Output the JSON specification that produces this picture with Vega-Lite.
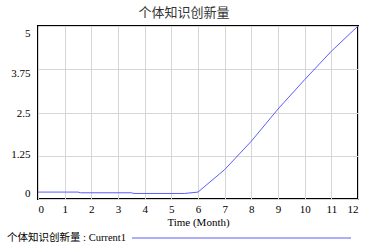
{
  "$schema": "https://vega.github.io/schema/vega-lite/v6.json",
  "width": 320,
  "height": 173,
  "autosize": "none",
  "padding": {"left": 38, "top": 26, "right": 12, "bottom": 48},
  "background": "white",
  "title": {
    "text": "个体知识创新量",
    "font": "Noto Sans CJK SC",
    "fontSize": 13,
    "fontWeight": "normal",
    "color": "#333333",
    "anchor": "middle",
    "dx": -14,
    "offset": 6
  },
  "config": {
    "view": {"stroke": "black", "strokeWidth": 2}
  },
  "data": {
    "values": [
      {"t": 0, "v": 0.2, "s": "Current1"},
      {"t": 1.5, "v": 0.2, "s": "Current1"},
      {"t": 1.6, "v": 0.18, "s": "Current1"},
      {"t": 3.5, "v": 0.18, "s": "Current1"},
      {"t": 3.6, "v": 0.16, "s": "Current1"},
      {"t": 5.5, "v": 0.16, "s": "Current1"},
      {"t": 6, "v": 0.2, "s": "Current1"},
      {"t": 7, "v": 0.85, "s": "Current1"},
      {"t": 8, "v": 1.67, "s": "Current1"},
      {"t": 9, "v": 2.6, "s": "Current1"},
      {"t": 10, "v": 3.45, "s": "Current1"},
      {"t": 11, "v": 4.27, "s": "Current1"},
      {"t": 12, "v": 5.0, "s": "Current1"}
    ]
  },
  "mark": {"type": "line", "strokeWidth": 1, "clip": true},
  "encoding": {
    "x": {
      "field": "t",
      "type": "quantitative",
      "scale": {"domain": [0, 12], "nice": false},
      "axis": {
        "values": [0,1,2,3,4,5,6,7,8,9,10,11,12],
        "format": "d",
        "title": "Time (Month)",
        "titleFont": "Liberation Serif",
        "titleFontSize": 11,
        "titleFontWeight": "normal",
        "titleColor": "black",
        "titlePadding": 2,
        "labelFont": "Liberation Serif",
        "labelFontSize": 11,
        "labelColor": "black",
        "labelPadding": 4,
        "ticks": false,
        "domain": false,
        "grid": true,
        "gridColor": "#d6d6d6",
        "gridWidth": 1
      }
    },
    "y": {
      "field": "v",
      "type": "quantitative",
      "scale": {"domain": [0, 5], "nice": false},
      "axis": {
        "values": [0, 1.25, 2.5, 3.75, 5],
        "labelExpr": "format(datum.value, '.2~f')",
        "title": null,
        "labelFont": "Liberation Serif",
        "labelFontSize": 11,
        "labelColor": "black",
        "labelPadding": 8,
        "labelOffset": {
          "condition": [
            {"test": "datum.value >= 5", "value": 7},
            {"test": "datum.value >= 3.75", "value": 4},
            {"test": "datum.value >= 2.5", "value": 1},
            {"test": "datum.value >= 1.25", "value": -1}
          ],
          "value": -6
        },
        "ticks": false,
        "domain": false,
        "grid": true,
        "gridColor": "#d6d6d6",
        "gridWidth": 1
      }
    },
    "color": {
      "field": "s",
      "type": "nominal",
      "scale": {"range": ["#5c5cff"]},
      "legend": {
        "orient": "none",
        "legendX": -31,
        "legendY": 207,
        "title": "个体知识创新量 : Current1",
        "titleOrient": "left",
        "titleFont": "'Liberation Serif', 'Noto Sans CJK SC'",
        "titleFontSize": 10.5,
        "titleFontWeight": "normal",
        "titleColor": "black",
        "titlePadding": 1,
        "symbolType": "M0,0H219",
        "symbolSize": 4,
        "symbolStrokeWidth": 1,
        "labelExpr": "''",
        "padding": 0
      }
    }
  }
}
